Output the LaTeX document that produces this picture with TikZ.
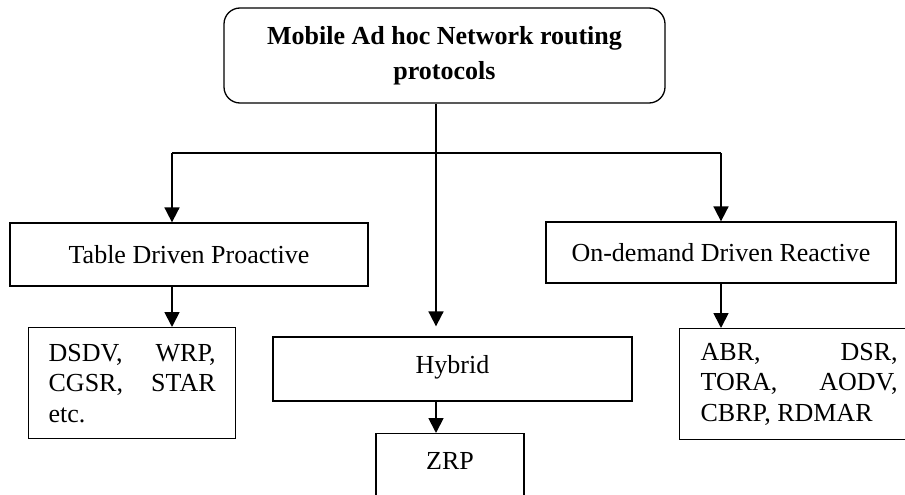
\documentclass[tikz,border=0pt]{standalone}
\usepackage{fontspec}
\setmainfont{Liberation Serif}
\usetikzlibrary{arrows.meta}

\begin{document}
\begin{tikzpicture}[x=1pt,y=-1pt,
	box/.style={draw,line width=1.3pt,inner sep=0pt,font=\fontsize{26}{30}\selectfont},
	leaf/.style={box,anchor=north west,align=justify,inner xsep=20pt,minimum height=111pt,
		font=\fontsize{26}{30.5}\selectfont},
	arr/.style={line width=1.8pt,-{Triangle[width=15pt,length=15pt]}}]

	\useasboundingbox (0,0) rectangle (905,495);
	\clip (0,0) rectangle (905,495);

	\node[box,rounded corners=16pt,minimum width=441pt,minimum height=95pt,align=center,
		font=\fontsize{26}{35}\selectfont\bfseries] (manet) at (444.5,55.5)
		{Mobile Ad hoc Network routing\\protocols};

	\node[box,minimum width=358pt,minimum height=63pt] (proactive) at (189,254.5) {Table Driven Proactive};
	\node[box,minimum width=350pt,minimum height=61pt] (reactive) at (721,252.5) {On-demand Driven Reactive};
	\node[box,minimum width=359pt,minimum height=64pt,text depth=10pt] (hybrid) at (452.5,369) {Hybrid};

	\node[leaf,text width=167pt] (prolist) at (28,327) {DSDV, WRP,\linebreak CGSR, STAR\linebreak etc.};
	\node[leaf,text width=197pt,inner xsep=21pt] (reclist) at (679,328) {ABR, DSR,\linebreak TORA, AODV,\linebreak CBRP, RDMAR};
	\node[box,anchor=north,minimum width=148pt,inner ysep=19pt,text depth=40pt] (zrp) at (450,433) {ZRP};

	% branching lines
	\coordinate (fork) at (436,153);
	\coordinate (lft) at (172,153);
	\coordinate (rgt) at (721,153);
	\draw[line width=1.8pt] (fork |- manet.south) -- (fork);
	\draw[line width=1.8pt] (lft) -- (rgt);

	\draw[arr] (lft) -- (lft |- proactive.north);
	\draw[arr] (rgt) -- (rgt |- reactive.north);
	\draw[arr,shorten >=10pt] (fork) -- (fork |- hybrid.north);

	\draw[arr] (lft |- proactive.south) -- (lft |- prolist.north);
	\draw[arr] (rgt |- reactive.south) -- (rgt |- reclist.north);
	\draw[arr] (fork |- hybrid.south) -- (fork |- zrp.north);

\end{tikzpicture}
\end{document}
